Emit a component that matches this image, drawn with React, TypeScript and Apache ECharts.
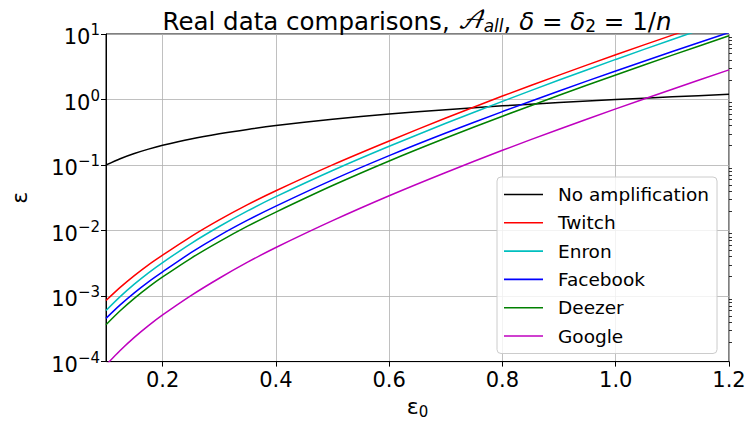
import React, { useEffect, useRef } from "react";
import * as echarts from "echarts";

const eps0 = [0.1, 0.125, 0.15, 0.175, 0.2, 0.25, 0.3, 0.35, 0.4, 0.5, 0.6, 0.7, 0.8, 0.9, 1.0, 1.1, 1.2];
const noAmplification = [0.1, 0.125, 0.15, 0.175, 0.2, 0.25, 0.3, 0.35, 0.4, 0.5, 0.6, 0.7, 0.8, 0.9, 1.0, 1.1, 1.2];
const twitch = [8.55e-4, 1.355e-3, 2.051e-3, 3.0e-3, 4.217e-3, 8.09e-3, 1.455e-2, 2.489e-2, 4.055e-2, 0.1007, 0.2333, 0.5224, 1.13, 2.36, 4.819, 9.616, 18.88];
const enron = [6.03e-4, 9.82e-4, 1.521e-3, 2.265e-3, 3.25e-3, 6.34e-3, 1.153e-2, 1.995e-2, 3.289e-2, 8.26e-2, 0.1936, 0.4335, 0.9376, 1.982, 4.093, 8.26, 16.41];
const facebook = [4.571e-4, 7.33e-4, 1.122e-3, 1.652e-3, 2.344e-3, 4.592e-3, 8.375e-3, 1.439e-2, 2.36e-2, 5.93e-2, 0.139, 0.3076, 0.6546, 1.352, 2.729, 5.408, 10.54];
const deezer = [3.656e-4, 5.957e-4, 9.226e-4, 1.371e-3, 1.959e-3, 3.776e-3, 6.792e-3, 1.167e-2, 1.914e-2, 4.864e-2, 0.1153, 0.2582, 0.5559, 1.161, 2.371, 4.753, 9.397];
const google = [8.85e-5, 1.476e-4, 2.339e-4, 3.54e-4, 5.152e-4, 1.016e-3, 1.871e-3, 3.289e-3, 5.521e-3, 1.419e-2, 3.404e-2, 7.709e-2, 0.1679, 0.3524, 0.7194, 1.436, 2.831];

const seriesNames = ["No amplification", "Twitch", "Enron", "Facebook", "Deezer", "Google"];
const seriesColors = ["#000000", "#ff0000", "#00bfbf", "#0000ff", "#008000", "#bf00bf"];
const seriesValues = [noAmplification, twitch, enron, facebook, deezer, google];

const xTickValues = [0.2, 0.4, 0.6, 0.8, 1.0, 1.2];
const yMin = 1e-4;
const yMax = 10;
const minorMultipliers = [2, 3, 4, 5, 6, 7, 8, 9];
const minorDecades = [-4, -3, -2, -1, 0];

const FONT = "DejaVu Sans";

export default function App() {
  const ref = useRef<HTMLDivElement>(null);
  useEffect(() => {
    if (!ref.current) return;
    const chart = echarts.init(ref.current, undefined, { renderer: "svg" });
    const minorTickPositions: number[] = [];
    minorDecades.forEach((d) =>
      minorMultipliers.forEach((m) => minorTickPositions.push(d + Math.log10(m)))
    );
    const option: any = {
      animation: false,
      backgroundColor: "#ffffff",
      textStyle: { fontFamily: FONT },
      title: {
        text: "Real data comparisons, {scr|𝒜}{sub|all}, {it|δ} = {it|δ}{sub2|2} = 1/{it|n}",
        left: 412,
        top: 3,
        textAlign: "center",
        textStyle: {
          fontFamily: FONT,
          fontSize: 24.5,
          fontWeight: "normal",
          color: "#000",
          rich: {
            scr: { fontFamily: "DejaVu Math TeX Gyre, DejaVu Serif", fontSize: 24.5, fontStyle: "italic", color: "#000" },
            sub: { fontFamily: FONT, fontSize: 17, fontStyle: "italic", color: "#000", padding: [9, 0, 0, 0] },
            sub2: { fontFamily: FONT, fontSize: 17, color: "#000", padding: [9, 0, 0, 0] },
            it: { fontFamily: FONT, fontSize: 24.5, fontStyle: "italic", color: "#000" },
          },
        },
      },
      grid: {
        left: 93,
        right: 25,
        top: 34,
        bottom: 61,
        show: true,
        borderColor: "#000",
        borderWidth: 1,
        backgroundColor: "transparent",
      },
      legend: {
        orient: "vertical",
        left: 497,
        top: 177,
        padding: [8, 8, 8, 7],
        itemWidth: 39,
        itemHeight: 1.6,
        itemGap: 9.3,
        icon: "rect",
        backgroundColor: "rgba(255,255,255,0.8)",
        borderColor: "#cccccc",
        borderWidth: 1,
        borderRadius: 4,
        data: seriesNames,
        textStyle: { fontFamily: FONT, fontSize: 18.5, color: "#000", padding: [0, 0, 0, 10] },
      },
      xAxis: [
        {
          type: "value",
          min: 0.1,
          max: 1.2,
          name: "ε{sub|0}",
          nameLocation: "middle",
          nameGap: 28,
          nameTextStyle: {
            fontFamily: FONT,
            fontSize: 22,
            color: "#000",
            rich: { sub: { fontFamily: FONT, fontSize: 15, color: "#000", padding: [10, 0, 0, 0] } },
          },
          axisLine: { show: true, onZero: false, lineStyle: { color: "#000", width: 1 } },
          axisTick: { show: true, inside: false, length: 5, lineStyle: { color: "#000" }, customValues: xTickValues },
          axisLabel: {
            fontFamily: FONT,
            fontSize: 21,
            color: "#000",
            margin: 8,
            customValues: xTickValues,
            formatter: (v: number) => v.toFixed(1),
          },
          splitLine: { show: true, lineStyle: { color: "#b0b0b0", width: 0.8 } },
        },
      ],
      yAxis: [
        {
          type: "log",
          logBase: 10,
          min: yMin,
          max: yMax,
          splitNumber: 5,
          name: "ε",
          nameLocation: "middle",
          nameGap: 76,
          nameTextStyle: { fontFamily: FONT, fontSize: 22, color: "#000" },
          axisLine: { show: true, onZero: false, lineStyle: { color: "#000", width: 1 } },
          axisTick: { show: true, inside: false, length: 5, lineStyle: { color: "#000" } },
          axisLabel: {
            margin: 6,
            formatter: (v: number) => {
              const e = Math.round(Math.log10(v));
              return "{b|10}{s|" + (e < 0 ? "−" + Math.abs(e) : String(e)) + "}";
            },
            rich: {
              b: { fontFamily: FONT, fontSize: 21, color: "#000", padding: [6, 0, 0, 0] },
              s: { fontFamily: FONT, fontSize: 15, color: "#000", padding: [0, 0, 8, 0] },
            },
          },
          splitLine: { show: true, lineStyle: { color: "#b0b0b0", width: 0.8 } },
        },
        {
          type: "value",
          min: -4,
          max: 1,
          show: true,
          axisLine: { show: false, onZero: false },
          axisLabel: { show: false },
          splitLine: { show: false },
          axisTick: {
            show: true,
            inside: false,
            length: 3,
            lineStyle: { color: "#000", width: 0.8 },
            customValues: minorTickPositions,
          },
        },
      ],
      series: seriesNames.map((name, i) => ({
        name,
        type: "line",
        xAxisIndex: 0,
        yAxisIndex: 0,
        data: eps0.map((x, j) => [x, seriesValues[i][j]]),
        showSymbol: false,
        symbol: "none",
        smooth: 0.25,
        clip: true,
        color: seriesColors[i],
        lineStyle: { color: seriesColors[i], width: 1.5 },
      })),
    };
    chart.setOption(option);
    return () => chart.dispose();
  }, []);
  return <div ref={ref} style={{ width: 754, height: 424, position: "absolute", left: 0, top: 0 }} />;
}
